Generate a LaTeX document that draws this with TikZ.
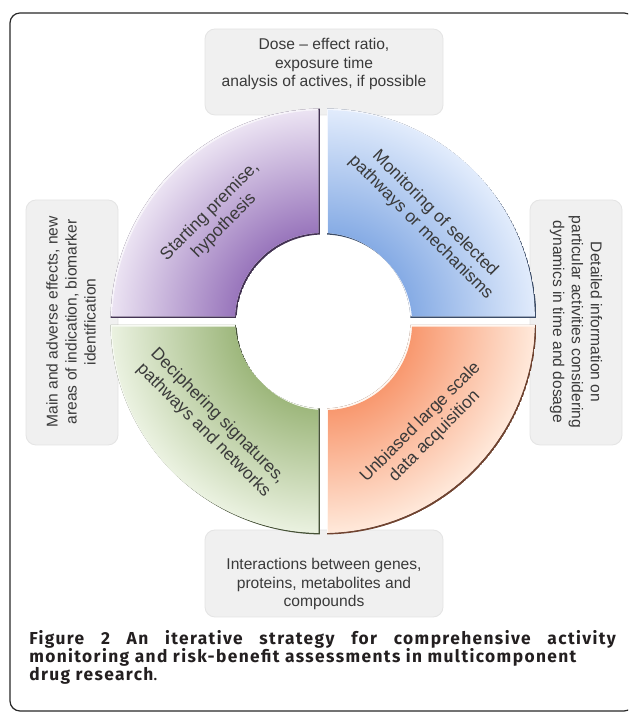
\documentclass[tikz,border=0pt]{standalone}
\usepackage{fontspec}
\setmainfont{Liberation Sans}
\newfontfamily\capfont[LetterSpace=8]{Fira Sans}
\usetikzlibrary{calc}
\definecolor{BoxClr}{RGB}{240,240,240}
\definecolor{BoxLineClr}{RGB}{228,228,228}
\definecolor{TextClr}{RGB}{58,58,58}
\definecolor{FrameClr}{RGB}{40,40,40}
\definecolor{CapClr}{RGB}{35,31,32}
\definecolor{PurpleDk}{RGB}{150,114,186}
\definecolor{PurpleLt}{RGB}{236,228,243}
\definecolor{BlueDk}{RGB}{132,170,228}
\definecolor{BlueLt}{RGB}{226,236,252}
\definecolor{GreenDk}{RGB}{156,182,122}
\definecolor{GreenLt}{RGB}{235,242,225}
\definecolor{OrangeDk}{RGB}{248,150,108}
\definecolor{OrangeLt}{RGB}{255,234,220}
\colorlet{RingIn}{black}
\colorlet{RingOut}{white}
\pgfdeclareradialshading[RingIn,RingOut]{ringshade}{\pgfpointorigin}{color(0bp)=(RingIn); color(10bp)=(RingIn); color(25bp)=(RingOut); color(50bp)=(RingOut)}
\newcommand\ringpart[1]{(#1+0.94:213) arc[start angle=#1+0.94,end angle=#1+89.06,radius=213] -- (#1+87.69:87) arc[start angle=#1+87.69,end angle=#1+2.31,radius=87] -- cycle}

\begin{document}
\begin{tikzpicture}[x=0.75pt,y=0.75pt,
  box/.style={fill=BoxClr,draw=BoxLineClr,line width=0.6pt,rounded corners=7.5pt},
  boxtext/.style={text=TextClr,align=center,inner sep=0pt,font=\fontsize{11.7}{14.2}\selectfont},
  parttext/.style={text=TextClr,align=center,inner sep=0pt,font=\fontsize{13}{15}\selectfont},
  captext/.style={anchor=base west,inner sep=0pt,text=CapClr,font=\capfont\bfseries\fontsize{13}{14}\selectfont}]
\useasboundingbox (0,0) rectangle (628,712);
\clip (0,0) rectangle (628,712);
\fill[white] (0,0) rectangle (628,712);
\draw[FrameClr,line width=0.9pt,rounded corners=7.5pt] (10,1) rectangle (634,699);

\path[box] (205,597) rectangle (443,683);
\path[box] (205,95) rectangle (443,182);
\path[box] (26,267) rectangle (118,512);
\path[box] (530,267) rectangle (622,512);

\node[boxtext] (dose) at (324,648) {Dose – effect ratio,\\exposure time\\analysis of actives, if possible};
\node[boxtext] (inter) at (324,128) {Interactions between genes,\\proteins, metabolites and\\compounds};
\node[boxtext,rotate=90] (effects) at (71,390) {Main and adverse effects, new\\areas of indication, biomarker\\identification};
\node[boxtext,rotate=-90] (details) at (576,390) {Detailed information on\\particular activities considering\\dynamics in time and dosage};

\coordinate (O) at (323.5,390.5);
\begin{scope}[shift={(O)}]
\foreach \a/\dk/\lt in {90/PurpleDk/PurpleLt,0/BlueDk/BlueLt,180/GreenDk/GreenLt,270/OrangeDk/OrangeLt}{
  \colorlet{RingIn}{\dk}
  \colorlet{RingOut}{\lt}
  \begin{scope}
    \clip \ringpart{\a};
    \fill[\dk!45!black] \ringpart{\a};
    \fill[\lt!40!white,shift={(-1.6,1.6)}] \ringpart{\a};
    \clip[shift={(-1.6,1.6)}] \ringpart{\a};
    \clip[shift={(1.6,-1.6)}] \ringpart{\a};
    \shade[shading=ringshade] (0,0) circle (213);
  \end{scope}
}
\node[parttext,rotate=45] (premise) at (136:148) {Starting premise,\\hypothesis};
\node[parttext,rotate=-45] (monitor) at (44:145) {Monitoring of selected\\pathways or mechanisms};
\node[parttext,rotate=-45] (decipher) at (222:152) {Deciphering signatures,\\pathways and networks};
\node[parttext,rotate=45] (unbiased) at (314:150) {Unbiased large scale\\data acquisition};
\end{scope}

\node[captext] (cap1) at (29,67) {\makebox[440pt][s]{Figure 2 An iterative strategy for comprehensive activity}};
\node[captext] (cap2) at (29,49) {monitoring and risk-benefit assessments in multicomponent};
\node[captext] (cap3) at (29,31) {drug research\mdseries.};
\end{tikzpicture}
\end{document}
